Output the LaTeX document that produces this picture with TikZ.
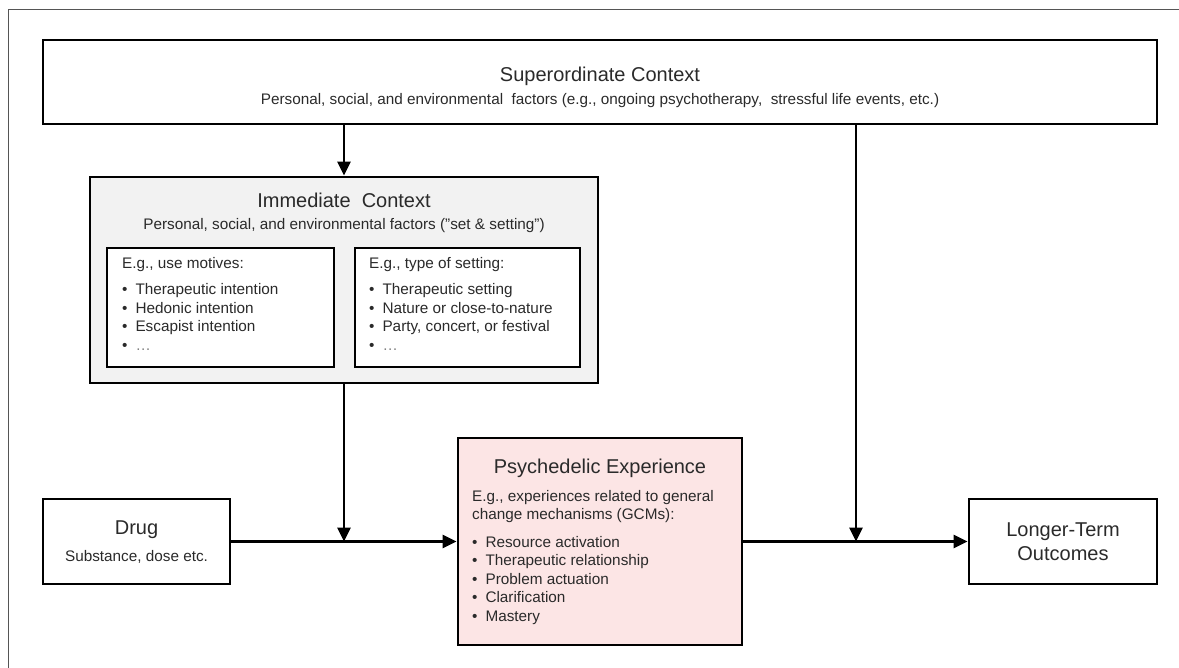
\documentclass[tikz,border=0pt]{standalone}
\usepackage{fontspec}
\setmainfont{Liberation Sans}
\usetikzlibrary{arrows.meta}
\definecolor{txt}{HTML}{2A2A2A}
\definecolor{immfill}{HTML}{F2F2F2}
\definecolor{psyfill}{HTML}{FCE5E5}
\definecolor{framec}{HTML}{555555}
\begin{document}
\begin{tikzpicture}[x=1pt,y=-1pt,
  box/.style={draw=black,line width=2.9pt,inner sep=0pt},
  ttl/.style={text=txt,font=\fontsize{20}{23}\selectfont,inner sep=0pt},
  sub/.style={text=txt,font=\fontsize{15.3}{18}\selectfont,inner sep=0pt},
  lst/.style={text=txt,font=\fontsize{15.3}{18.8}\selectfont,inner sep=0pt,anchor=north west,align=left},
  arr/.style={line width=2.6pt,-{Triangle[length=14pt,width=13pt]}}]
\useasboundingbox (0,0) rectangle (1179,668);
% outer frame (cropped)
\draw[framec,line width=1pt] (8,668) -- (8,10) -- (1179,10);

% boxes
\node[box,minimum width=1114pt,minimum height=84pt] (super) at (600,82) {};
\node[box,fill=immfill,minimum width=508pt,minimum height=206pt] (imm) at (344,280) {};
\node[box,fill=white,minimum width=227pt,minimum height=119pt] (mot) at (220.5,307.5) {};
\node[box,fill=white,minimum width=225pt,minimum height=119pt] (set) at (467.5,307.5) {};
\node[box,minimum width=187pt,minimum height=85pt] (drug) at (136.5,541.5) {};
\node[box,fill=psyfill,minimum width=284pt,minimum height=207pt] (psy) at (600,541.5) {};
\node[box,minimum width=188pt,minimum height=85pt] (lto) at (1063,541.5) {};

% texts
\node[ttl] (superT) at (600,76) {Superordinate Context};
\node[sub] (superS) at (600,101) {Personal,\ social,\ and environmental\ \ factors (e.g.,\ ongoing psychotherapy,\ \ stressful life events,\ etc.)};
\node[ttl] (immT) at (344,200) {Immediate\ \ Context};
\node[sub] (immS) at (344,226) {Personal,\ social,\ and environmental factors (\symbol{34}set \& setting\symbol{34})};

\node[lst] (motH) at (122,257) {E.g.,\ use motives:};
\node[lst] (motL) at (122,283) {\textbullet\hspace{8pt}Therapeutic\ intention\\\textbullet\hspace{8pt}Hedonic intention\\\textbullet\hspace{8pt}Escapist intention\\\textbullet\hspace{8pt}\textcolor{gray}{\dots}};
\node[lst] (setH) at (369,257) {E.g.,\ type of setting:};
\node[lst] (setL) at (369,283) {\textbullet\hspace{8pt}Therapeutic\ setting\\\textbullet\hspace{8pt}Nature or close-to-nature\\\textbullet\hspace{8pt}Party,\ concert,\ or festival\\\textbullet\hspace{8pt}\textcolor{gray}{\dots}};

\node[ttl] (drugT) at (136.5,530) {Drug};
\node[sub] (drugS) at (136.5,557) {Substance,\ dose etc.};

\node[ttl] (psyT) at (600,468) {Psychedelic Experience};
\node[lst,font=\fontsize{15.3}{18}\selectfont] (psyH) at (472,490) {E.g.,\ experiences related to general\\change mechanisms (GCMs):};
\node[lst,font=\fontsize{15.3}{18.5}\selectfont] (psyL) at (472,536) {\textbullet\hspace{8pt}Resource activation\\\textbullet\hspace{8pt}Therapeutic\ relationship\\\textbullet\hspace{8pt}Problem actuation\\\textbullet\hspace{8pt}Clarification\\\textbullet\hspace{8pt}Mastery};

\node[ttl,align=center,font=\fontsize{20}{24}\selectfont] (ltoT) at (1063,542) {Longer-Term\\Outcomes};

% connectors
\coordinate (j1) at (344,541.5);
\coordinate (j2) at (856,541.5);
\coordinate (s2) at (856,124);
\draw[arr] (super.south -| imm.north) -- (imm.north);
\draw[arr] (imm.south) -- (j1);
\draw[arr] (drug.east) -- (psy.west);
\draw[arr] (s2) -- (j2);
\draw[arr] (psy.east) -- (lto.west);
\end{tikzpicture}
\end{document}
